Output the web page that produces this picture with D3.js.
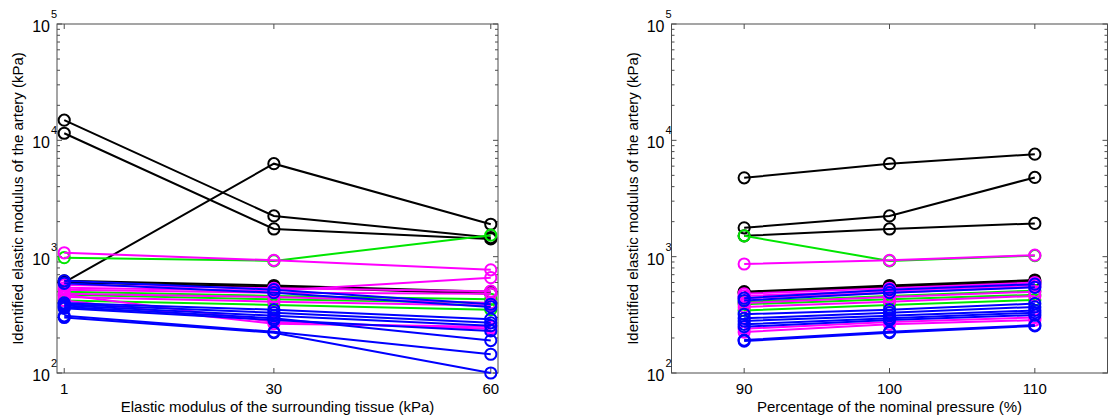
<!DOCTYPE html>
<html><head><meta charset="utf-8">
<script src="https://cdn.jsdelivr.net/npm/d3@7"></script>
<style>
html,body{margin:0;padding:0;background:#fff;}
svg{display:block;font-family:"Liberation Sans",Arial,sans-serif;}
</style></head>
<body>
<svg id="chart" width="1109" height="416"></svg>
<script>
// ---------- data ----------
const tissueTicks = [1, 30, 60];
const pressureTicks = [90, 100, 110];
const yTickExponents = [2, 3, 4, 5];

// left panel: modulus at tissue 1, 30, 60 kPa
const blackTissue = [[14900, 2240, 1460], [11500, 1730, 1420], [600, 6300, 1900], [620, 565, 500], [600, 550, 480]];
const greenTissue = [[980, 920, 1530], [500, 460, 430], [470, 430, 400], [420, 385, 350]];
const magentaTissue = [[1080, 930, 770], [570, 535, 505], [540, 510, 660], [520, 490, 480], [480, 450, 400], [450, 410, 380], [470, 275, 240], [420, 265, 250]];
const blueTissue = [[620, 520, 390], [590, 490, 370], [400, 350, 290], [390, 330, 270], [380, 310, 255], [370, 295, 190], [360, 285, 230], [310, 226, 145], [300, 222, 100]];

// right panel: modulus at 90, 100, 110 % of nominal pressure
const blackPressure = [[1770, 2240, 4800], [1510, 1730, 1930], [4760, 6300, 7600], [500, 565, 630], [490, 550, 610]];
const greenPressure = [[1510, 920, 1020], [410, 460, 510], [390, 430, 470], [345, 385, 425]];
const magentaPressure = [[865, 930, 1030], [480, 535, 600], [460, 510, 570], [440, 490, 550], [400, 450, 500], [370, 410, 460], [240, 275, 300], [225, 262, 285]];
const bluePressure = [[440, 520, 580], [420, 490, 545], [320, 350, 395], [295, 330, 370], [280, 310, 345], [262, 295, 330], [250, 285, 315], [192, 226, 258], [188, 222, 254]];

const seriesColors = ["#000000", "#00e600", "#ff00ff", "#0000ff"];

// ---------- layout ----------
const svg = d3.select("#chart");
const plotTop = 24, plotBottom = 373;
const y = d3.scaleLog().domain([100, 100000]).range([plotBottom, plotTop]);
const axisColor = "#4d4d4d";
const fontSize = 15;

function panel(opts) {
  const x = d3.scaleLinear().domain(opts.domain).range([opts.left, opts.right]);
  const g = svg.append("g");
  g.append("rect").attr("x", opts.left).attr("y", plotTop)
    .attr("width", opts.right - opts.left).attr("height", plotBottom - plotTop)
    .attr("fill", "none").attr("stroke", axisColor).attr("stroke-width", 1);
  opts.ticks.forEach(t => {
    g.append("line").attr("x1", x(t)).attr("x2", x(t)).attr("y1", plotBottom).attr("y2", plotBottom - 5).attr("stroke", axisColor);
    g.append("line").attr("x1", x(t)).attr("x2", x(t)).attr("y1", plotTop).attr("y2", plotTop + 5).attr("stroke", axisColor);
    g.append("text").attr("x", x(t)).attr("y", plotBottom + 21).attr("text-anchor", "middle")
      .attr("font-size", fontSize).attr("fill", "#000").text(t);
  });
  for (let e = 2; e <= 5; e++) {
    const yy = y(Math.pow(10, e));
    g.append("line").attr("x1", opts.left).attr("x2", opts.left + 5).attr("y1", yy).attr("y2", yy).attr("stroke", axisColor);
    g.append("line").attr("x1", opts.right).attr("x2", opts.right - 5).attr("y1", yy).attr("y2", yy).attr("stroke", axisColor);
    if (e < 5) {
      for (let m = 2; m <= 9; m++) {
        const ym = y(m * Math.pow(10, e));
        g.append("line").attr("x1", opts.left).attr("x2", opts.left + 3).attr("y1", ym).attr("y2", ym).attr("stroke", axisColor);
        g.append("line").attr("x1", opts.right).attr("x2", opts.right - 3).attr("y1", ym).attr("y2", ym).attr("stroke", axisColor);
      }
    }
  }
  yTickExponents.forEach(e => {
    const yy = y(Math.pow(10, e));
    g.append("text").attr("x", opts.left - 7).attr("y", yy + 8).attr("text-anchor", "end")
      .attr("font-size", 16).attr("fill", "#000").text("10");
    g.append("text").attr("x", opts.left - 6).attr("y", yy - 6).attr("text-anchor", "start")
      .attr("font-size", 11).attr("fill", "#000").text(e);
  });
  g.append("text").attr("x", (opts.left + opts.right) / 2).attr("y", 412).attr("text-anchor", "middle")
    .attr("font-size", fontSize).attr("fill", "#000").text(opts.xlabel);
  g.append("text").attr("transform", `translate(${opts.left - 34},${(plotTop + plotBottom) / 2}) rotate(-90)`)
    .attr("text-anchor", "middle").attr("font-size", fontSize).attr("fill", "#000")
    .text("Identified elastic modulus of the artery (kPa)");
  const line = d3.line().x((d, i) => x(opts.ticks[i])).y(d => y(d));
  opts.groups.forEach((grp, gi) => {
    grp.forEach(s => {
      g.append("path").attr("d", line(s)).attr("fill", "none")
        .attr("stroke", seriesColors[gi]).attr("stroke-width", 2);
      s.forEach((v, i) => {
        g.append("circle").attr("cx", x(opts.ticks[i])).attr("cy", y(v)).attr("r", 5.6)
          .attr("fill", "none").attr("stroke", seriesColors[gi]).attr("stroke-width", 2);
      });
    });
  });
}

panel({
  left: 57, right: 498, domain: [0, 61], ticks: tissueTicks,
  xlabel: "Elastic modulus of the surrounding tissue (kPa)",
  groups: [blackTissue, greenTissue, magentaTissue, blueTissue]
});
panel({
  left: 671.5, right: 1107.5, domain: [85, 115], ticks: pressureTicks,
  xlabel: "Percentage of the nominal pressure (%)",
  groups: [blackPressure, greenPressure, magentaPressure, bluePressure]
});
</script>
</body></html>
